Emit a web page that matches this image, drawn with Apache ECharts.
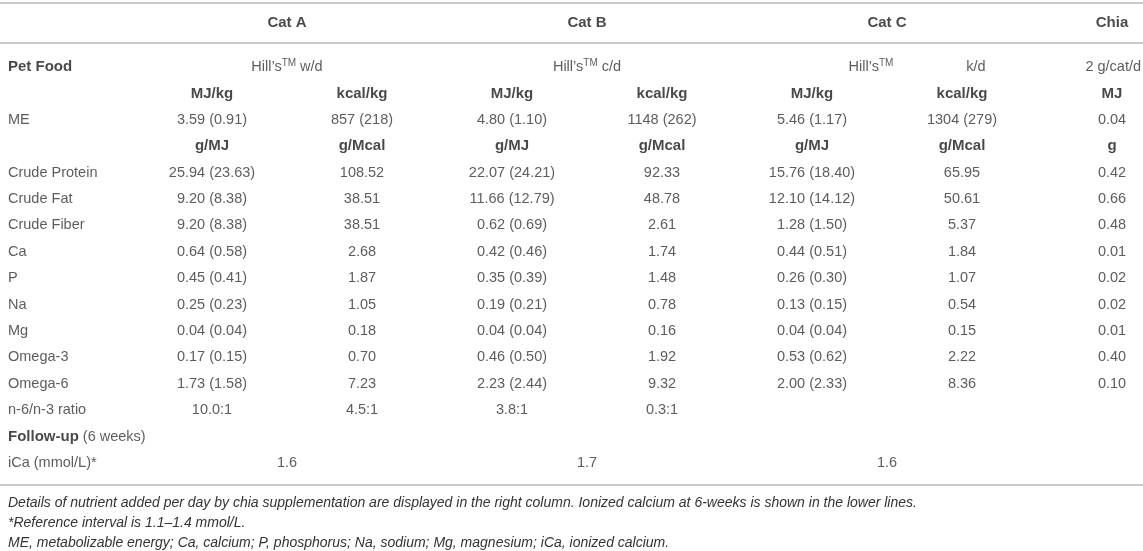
<!DOCTYPE html>
<html>
<head>
<meta charset="utf-8">
<script src="https://cdn.jsdelivr.net/npm/echarts@6/dist/echarts.min.js"></script>
<style>
html, body { margin: 0; padding: 0; background: #fff; }
#chart { width: 1143px; height: 551px; }
</style>
</head>
<body>
<div id="chart"></div>
<script>
// table values
var groups = ['Cat A', 'Cat B', 'Cat C', 'Chia'];
var petFood = ['w/d', 'c/d', 'k/d', '2 g/cat/d'];
var unitsEnergy = ['MJ/kg', 'kcal/kg', 'MJ/kg', 'kcal/kg', 'MJ/kg', 'kcal/kg', 'MJ'];
var meValues = ['3.59 (0.91)', '857 (218)', '4.80 (1.10)', '1148 (262)', '5.46 (1.17)', '1304 (279)', '0.04'];
var unitsNutrient = ['g/MJ', 'g/Mcal', 'g/MJ', 'g/Mcal', 'g/MJ', 'g/Mcal', 'g'];

var nutrientNames = ['Crude Protein', 'Crude Fat', 'Crude Fiber', 'Ca', 'P', 'Na', 'Mg', 'Omega-3', 'Omega-6'];
var crudeProtein = ['25.94 (23.63)', '108.52', '22.07 (24.21)', '92.33', '15.76 (18.40)', '65.95', '0.42'];
var crudeFat = ['9.20 (8.38)', '38.51', '11.66 (12.79)', '48.78', '12.10 (14.12)', '50.61', '0.66'];
var crudeFiber = ['9.20 (8.38)', '38.51', '0.62 (0.69)', '2.61', '1.28 (1.50)', '5.37', '0.48'];
var calcium = ['0.64 (0.58)', '2.68', '0.42 (0.46)', '1.74', '0.44 (0.51)', '1.84', '0.01'];
var phosphorus = ['0.45 (0.41)', '1.87', '0.35 (0.39)', '1.48', '0.26 (0.30)', '1.07', '0.02'];
var sodium = ['0.25 (0.23)', '1.05', '0.19 (0.21)', '0.78', '0.13 (0.15)', '0.54', '0.02'];
var magnesium = ['0.04 (0.04)', '0.18', '0.04 (0.04)', '0.16', '0.04 (0.04)', '0.15', '0.01'];
var omega3 = ['0.17 (0.15)', '0.70', '0.46 (0.50)', '1.92', '0.53 (0.62)', '2.22', '0.40'];
var omega6 = ['1.73 (1.58)', '7.23', '2.23 (2.44)', '9.32', '2.00 (2.33)', '8.36', '0.10'];
var nutrientRows = [crudeProtein, crudeFat, crudeFiber, calcium, phosphorus, sodium, magnesium, omega3, omega6];

var ratioValues = ['10.0:1', '4.5:1', '3.8:1', '0.3:1'];
var iCaValues = ['1.6', '1.7', '1.6'];

var footnotes = [
  'Details of nutrient added per day by chia supplementation are displayed in the right column. Ionized calcium at 6-weeks is shown in the lower lines.',
  '*Reference interval is 1.1\u20131.4 mmol/L.',
  'ME, metabolizable energy; Ca, calcium; P, phosphorus; Na, sodium; Mg, magnesium; iCa, ionized calcium.'
];

// layout: pixel -> axis units
var W = 1143, H = 551;
var COL0 = 212, COLW = 150;   // centre of first value column, column pitch
var ROW0 = 67, ROWH = 26.4;   // centre of "Pet Food" row, row pitch
function px(x) { return (x - COL0) / COLW; }
function py(y) { return (y - ROW0) / ROWH; }
var groupCols = [0.5, 2.5, 4.5, 6];
var labelX = px(8);

var cells = [];
function cell(x, y, text, align) {
  cells.push({ value: [x, y], name: text, label: { align: align || 'center' } });
}

// header row
groups.forEach(function (g, i) { cell(groupCols[i], py(23), '{h|' + g + '}'); });

// pet food row
cell(labelX, 0, '{b|Pet Food}', 'left');
cell(groupCols[0], 0, '{n|Hill\u2019s}{s|TM}{n| ' + petFood[0] + '}');
cell(groupCols[1], 0, '{n|Hill\u2019s}{s|TM}{n| ' + petFood[1] + '}');
cell(px(871), 0, '{n|Hill\u2019s}{s|TM}');
cell(px(976), 0, petFood[2]);
cell(px(1141), 0, petFood[3], 'right');

unitsEnergy.forEach(function (u, i) { cell(i, 1, '{b|' + u + '}'); });
cell(labelX, 2, 'ME', 'left');
meValues.forEach(function (v, i) { cell(i, 2, v); });
unitsNutrient.forEach(function (u, i) { cell(i, 3, '{b|' + u + '}'); });

nutrientNames.forEach(function (name, r) {
  cell(labelX, 4 + r, name, 'left');
  nutrientRows[r].forEach(function (v, i) { cell(i, 4 + r, v); });
});

cell(labelX, 13, 'n-6/n-3 ratio', 'left');
ratioValues.forEach(function (v, i) { cell(i, 13, v); });

cell(labelX, 14, '{b|Follow-up}{n| (6 weeks)}', 'left');

cell(labelX, 15, 'iCa (mmol/L)*', 'left');
iCaValues.forEach(function (v, i) { cell(groupCols[i], 15, v); });

var chart = echarts.init(document.getElementById('chart'));

var option = {
  animation: false,
  textStyle: { fontFamily: "'Liberation Sans', Arial, sans-serif" },
  title: {
    text: footnotes.join('\n'),
    left: 8,
    top: 493,
    padding: 0,
    textStyle: {
      fontStyle: 'italic',
      fontWeight: 'normal',
      fontSize: 14,
      lineHeight: 20,
      color: '#333'
    }
  },
  grid: { left: 0, right: 0, top: 0, bottom: 0 },
  xAxis: { type: 'value', min: px(0), max: px(W), show: false },
  yAxis: { type: 'value', inverse: true, min: py(0), max: py(H), show: false },
  series: [{
    type: 'scatter',
    symbolSize: 0,
    silent: true,
    clip: false,
    emphasis: { disabled: true },
    data: cells,
    label: {
      show: true,
      position: 'inside',
      verticalAlign: 'middle',
      fontSize: 14.5,
      color: '#333',
      formatter: function (p) { return p.name; },
      rich: {
        n: { fontSize: 14.5, color: '#333', lineHeight: 18 },
        s: { fontSize: 10, color: '#333', lineHeight: 12, verticalAlign: 'top' },
        b: { fontSize: 15, fontWeight: 'bold', color: '#1a1a1a', lineHeight: 18 },
        h: { fontSize: 15, fontWeight: 'bold', color: '#1a1a1a', lineHeight: 18 }
      }
    },
    markLine: {
      silent: true,
      symbol: ['none', 'none'],
      label: { show: false },
      lineStyle: { color: '#c8c8c8', width: 2, type: 'solid' },
      data: [{ yAxis: py(3) }, { yAxis: py(43) }, { yAxis: py(485) }]
    }
  }]
};

chart.setOption(option);
</script>
</body>
</html>
